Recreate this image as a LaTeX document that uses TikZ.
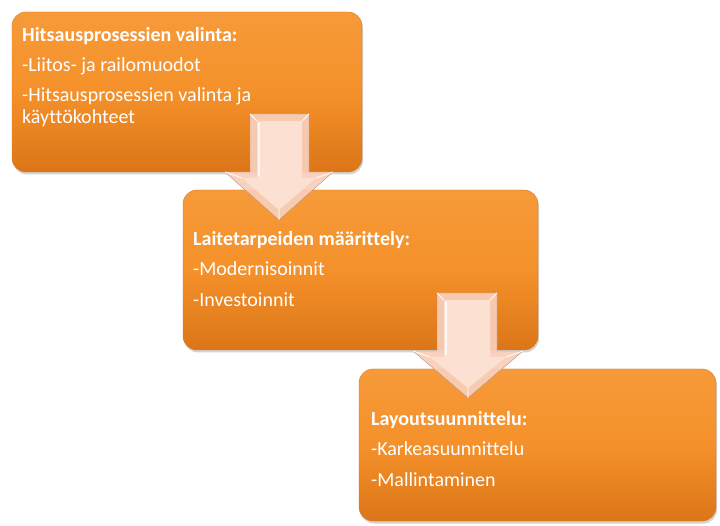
\documentclass[tikz,border=0pt]{standalone}
\usepackage{fontspec}
\setmainfont{Carlito}[Ligatures=NoCommon]
\usetikzlibrary{shadows}
\definecolor{boxtop}{HTML}{F69A3A}
\definecolor{boxmid}{HTML}{F5912A}
\definecolor{boxbot}{HTML}{DB7518}
\definecolor{boxline}{HTML}{D8781F}
\definecolor{arrowfill}{HTML}{F8CFBA}
\definecolor{arrowlight}{HTML}{FDE3D6}
\definecolor{arrowline}{HTML}{B98C78}

\begin{document}
\begin{tikzpicture}[x=1pt,y=-1pt,
  stagebox/.style={rounded corners=14pt,draw=boxline,top color=boxtop,bottom color=boxbot,middle color=boxmid,
    drop shadow={opacity=0.35,shadow xshift=1pt,shadow yshift=-2.5pt},minimum height=160pt,inner sep=0pt},
  headline/.style={anchor=base west,inner sep=0pt,text=white,font=\bfseries\fontsize{20}{24}\selectfont},
  itemline/.style={anchor=base west,inner sep=0pt,text=white,font=\fontsize{20}{24}\selectfont}]
\useasboundingbox (0,0) rectangle (720,526);

% the three stages
\node[stagebox,minimum width=350pt] (valinta) at (187,92) {};
\node[stagebox,minimum width=355pt] (laitteet) at (360.5,270) {};
\node[stagebox,minimum width=357pt,minimum height=152pt] (layout) at (537.5,445) {};

\node[headline] (valintaH) at (22,42) {Hitsausprosessien valinta:};
\node[itemline] (valinta1) at (22,72) {-Liitos- ja railomuodot};
\node[itemline] (valinta2) at (22,102) {-Hitsausprosessien valinta ja};
\node[itemline] (valinta3) at (22,124) {käyttökohteet};

\node[headline] (laitteetH) at (193,246) {Laitetarpeiden määrittely:};
\node[itemline] (laitteet1) at (193,276) {-Modernisoinnit};
\node[itemline] (laitteet2) at (193,307) {-Investoinnit};

\node[headline] (layoutH) at (371,425) {Layoutsuunnittelu:};
\node[itemline] (layout1) at (371,455) {-Karkeasuunnittelu};
\node[itemline] (layout2) at (371,486) {-Mallintaminen};

% block arrows between the stages
\foreach \sl/\sr/\st/\hs/\hl/\hr/\tx/\ty in {250/309/114/172/225/333/279/220, 437/497/293/351/413/523/468/398}{
  \draw[arrowline,fill=arrowfill,fill opacity=0.93] (\sl,\st) -- (\sr,\st) -- (\sr,\hs) -- (\hr,\hs)
    -- (\tx,\ty) -- (\hl,\hs) -- (\sl,\hs) -- cycle;
  \fill[arrowlight,opacity=0.9] (\sl+7,\st+7) -- (\sr-7,\st+7) -- (\sr-7,\hs+6) -- (\hr-17,\hs+6)
    -- (\tx,\ty-10) -- (\hl+17,\hs+6) -- (\sl+7,\hs+6) -- cycle;
  \draw[white,line width=0.8pt] (\sl,\st) -- (\sl+7,\st+7) (\sr,\st) -- (\sr-7,\st+7)
    (\hr,\hs) -- (\hr-17,\hs+6) (\hl,\hs) -- (\hl+17,\hs+6) (\tx,\ty) -- (\tx,\ty-10);
  \draw[white,line width=1.5pt,opacity=0.8] (\sl+9,\st+9) -- (\sl+9,\hs+4);
}
\end{tikzpicture}
\end{document}
